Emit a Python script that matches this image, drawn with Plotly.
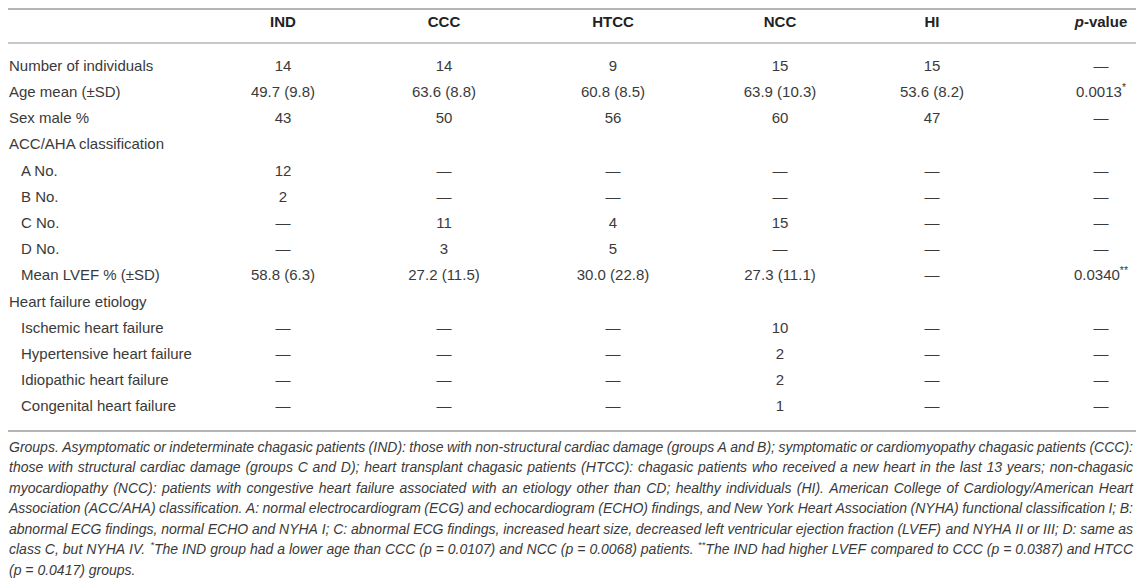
import re
import plotly.graph_objects as go

# table content
columns = ["<b>IND</b>", "<b>CCC</b>", "<b>HTCC</b>", "<b>NCC</b>", "<b>HI</b>", "<b><i>p</i>-value</b>"]

row_labels = [
    "Number of individuals",
    "Age mean (\u00b1SD)",
    "Sex male %",
    "ACC/AHA classification",
    "A No.",
    "B No.",
    "C No.",
    "D No.",
    "Mean LVEF % (\u00b1SD)",
    "Heart failure etiology",
    "Ischemic heart failure",
    "Hypertensive heart failure",
    "Idiopathic heart failure",
    "Congenital heart failure",
]
indented = [4, 5, 6, 7, 8, 10, 11, 12, 13]

D = "\u2014"
ind = ["14", "49.7 (9.8)", "43", "", "12", "2", D, D, "58.8 (6.3)", "", D, D, D, D]
ccc = ["14", "63.6 (8.8)", "50", "", D, D, "11", "3", "27.2 (11.5)", "", D, D, D, D]
htcc = ["9", "60.8 (8.5)", "56", "", D, D, "4", "5", "30.0 (22.8)", "", D, D, D, D]
ncc = ["15", "63.9 (10.3)", "60", "", D, D, "15", D, "27.3 (11.1)", "", "10", "2", "2", "1"]
hi = ["15", "53.6 (8.2)", "47", "", D, D, D, D, D, "", D, D, D, D]
pval = [D, "0.0013<sup>*</sup>", D, "", D, D, D, D, "0.0340<sup>**</sup>", "", D, D, D, D]

footnote = [
    "Groups. Asymptomatic or indeterminate chagasic patients (IND): those with non-structural cardiac damage (groups A and B); symptomatic or cardiomyopathy chagasic patients (CCC):",
    "those with structural cardiac damage (groups C and D); heart transplant chagasic patients (HTCC): chagasic patients who received a new heart in the last 13 years; non-chagasic",
    "myocardiopathy (NCC): patients with congestive heart failure associated with an etiology other than CD; healthy individuals (HI). American College of Cardiology/American Heart",
    "Association (ACC/AHA) classification. A: normal electrocardiogram (ECG) and echocardiogram (ECHO) findings, and New York Heart Association (NYHA) functional classification I; B:",
    "abnormal ECG findings, normal ECHO and NYHA I; C: abnormal ECG findings, increased heart size, decreased left ventricular ejection fraction (LVEF) and NYHA II or III; D: same as",
    "class C, but NYHA IV. <sup>*</sup>The IND group had a lower age than CCC (p = 0.0107) and NCC (p = 0.0068) patients. <sup>**</sup>The IND had higher LVEF compared to CCC (p = 0.0387) and HTCC",
    "(p = 0.0417) groups.",
]

# layout, in page pixels (the page keeps its 8px body margin)
W, H = 1144, 579
OFF = 8
FONT = "Liberation Sans, Arial, sans-serif"
TXT = "#3a3a3a"
col_x = [283, 444, 613, 780, 932, 1101]
label_x, indent_x = 9, 21
header_y = 23
row_y0, row_h = 67, 26.2
note_y0, note_h = 448, 20.5
note_x0, note_x1 = 9, 1133
note_size = 14
rules = [(9, 2), (43, 1.6), (431, 2)]

# Arial / Liberation Sans advance widths (1/1000 em), used to justify the note
AW = {" ": 278, "(": 333, ")": 333, "*": 389, ",": 278, "-": 333, ".": 278, "/": 278,
      ":": 278, ";": 278, "=": 584}
AW.update({c: 556 for c in "0123456789"})
AW.update(dict(zip("ABCDEFGHIJKLMNOPQRSTUVWXYZ",
                   [667, 667, 722, 722, 667, 611, 778, 722, 278, 500, 667, 556, 833,
                    722, 778, 667, 778, 722, 667, 611, 722, 667, 944, 667, 667, 611])))
AW.update(dict(zip("abcdefghijklmnopqrstuvwxyz",
                   [556, 556, 500, 556, 556, 278, 556, 556, 222, 222, 500, 222, 833,
                    556, 556, 556, 556, 333, 500, 278, 556, 500, 722, 500, 500, 500])))


def word_width(w, size):
    total = 0
    for part in re.split(r"(<sup>.*?</sup>)", w):
        if part.startswith("<sup>"):
            total += 0.7 * sum(AW.get(c, 556) for c in part[5:-6])
        else:
            total += sum(AW.get(c, 556) for c in part)
    return total * size / 1000


row_y = [row_y0 + i * row_h for i in range(len(row_labels))]

fig = go.Figure()

# horizontal rules
for y, w in rules:
    fig.add_shape(type="line", xref="paper", yref="y", x0=0, x1=1,
                  y0=y, y1=y, line=dict(color="#b4b4b4", width=w))

# row labels
fig.add_trace(go.Scatter(
    x=[indent_x if i in indented else label_x for i in range(len(row_labels))],
    y=row_y, text=row_labels, mode="text", textposition="middle right",
    textfont=dict(family=FONT, size=15, color=TXT), hoverinfo="skip", cliponaxis=False,
))

# header
fig.add_trace(go.Scatter(
    x=col_x, y=[header_y] * len(columns), text=columns, mode="text",
    textposition="middle center", textfont=dict(family=FONT, size=15, color="#222"),
    hoverinfo="skip", cliponaxis=False,
))

# value columns (blank cells skipped)
for cx, vals in zip(col_x, [ind, ccc, htcc, ncc, hi, pval]):
    keep = [i for i, v in enumerate(vals) if v]
    fig.add_trace(go.Scatter(
        x=[cx] * len(keep), y=[row_y[i] for i in keep], text=[vals[i] for i in keep],
        mode="text", textposition="middle center",
        textfont=dict(family=FONT, size=15, color=TXT), hoverinfo="skip", cliponaxis=False,
    ))

# justified italic note, placed word by word
nx, ny, nt = [], [], []
for li, line in enumerate(footnote):
    words = line.split(" ")
    widths = [word_width(w, note_size) for w in words]
    if li < len(footnote) - 1 and len(words) > 1:
        gap = (note_x1 - note_x0 - sum(widths)) / (len(words) - 1)
    else:
        gap = AW[" "] * note_size / 1000
    x = note_x0
    for w, ww in zip(words, widths):
        nx.append(x)
        ny.append(note_y0 + li * note_h)
        nt.append("<i>" + w + "</i>")
        x += ww + gap

fig.add_trace(go.Scatter(
    x=nx, y=ny, text=nt, mode="text", textposition="middle right",
    textfont=dict(family=FONT, size=note_size, color=TXT), hoverinfo="skip", cliponaxis=False,
))

# figure sits inside the body margin: page x 8..1136, y 8..579
fig.update_layout(
    width=W - 2 * OFF, height=H - OFF, margin=dict(l=0, r=0, t=0, b=0),
    paper_bgcolor="white", plot_bgcolor="white", showlegend=False,
    xaxis=dict(range=[OFF, W - OFF], visible=False, fixedrange=True),
    yaxis=dict(range=[H, OFF], visible=False, fixedrange=True),
)

fig.write_html("out.html", config={"displayModeBar": False})
